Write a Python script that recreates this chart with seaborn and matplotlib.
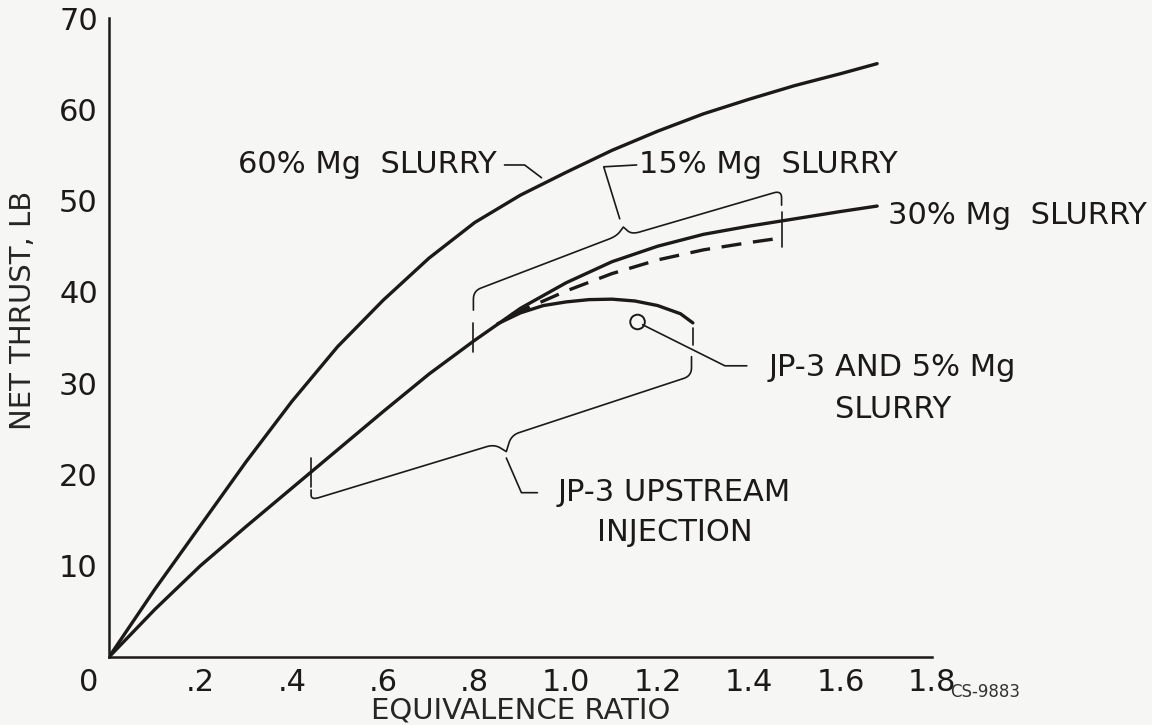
import numpy as np
import pandas as pd
import matplotlib
matplotlib.use("Agg")
import matplotlib.pyplot as plt
import seaborn as sns

# values (equivalence ratio vs net thrust, lb)
ratio_60 = [0, .1, .2, .3, .4, .5, .6, .7, .8, .9, 1.0, 1.1, 1.2, 1.3, 1.4, 1.5, 1.6, 1.68]
thrust_60 = [0, 7.4, 14.4, 21.4, 28.0, 34.0, 39.1, 43.7, 47.6, 50.6, 53.1, 55.5, 57.6, 59.5, 61.1, 62.6, 63.9, 65.0]

ratio_30 = [0, .1, .2, .3, .4, .5, .6, .7, .8, .9, 1.0, 1.1, 1.2, 1.3, 1.4, 1.5, 1.6, 1.68]
thrust_30 = [0, 5.2, 10.0, 14.3, 18.5, 22.7, 26.9, 31.0, 34.7, 38.2, 41.0, 43.3, 45.0, 46.3, 47.2, 48.0, 48.8, 49.4]

ratio_15 = [.88, .95, 1.0, 1.1, 1.2, 1.3, 1.4, 1.47]
thrust_15 = [37.5, 39.0, 40.1, 42.0, 43.5, 44.6, 45.4, 45.9]

ratio_jp3 = [.85, .9, .95, 1.0, 1.05, 1.1, 1.15, 1.2, 1.25, 1.277]
thrust_jp3 = [36.5, 37.7, 38.5, 38.9, 39.15, 39.2, 39.0, 38.5, 37.6, 36.6]

ratio_jp3_mg5 = [1.156]
thrust_jp3_mg5 = [36.7]

x_ticks = [.2, .4, .6, .8, 1.0, 1.2, 1.4, 1.6, 1.8]
x_ticklabels = [".2", ".4", ".6", ".8", "1.0", "1.2", "1.4", "1.6", "1.8"]
y_ticks = [10, 20, 30, 40, 50, 60, 70]

INK = "#1c1a18"
BG = "#f6f6f4"

sns.set_style("white")
plt.rcParams["font.family"] = ["DejaVu Sans"]
plt.rcParams["text.color"] = INK

SX = 50.0  # x data units -> y data units, roughly isotropic on the page


def rounded_path(pts, r=0.9, sharp=()):
    # polyline with softened corners, used for the braces
    pts = np.array(pts, float) * [SX, 1]
    out = [pts[0]]
    for i in range(1, len(pts) - 1):
        p, a, b = pts[i], pts[i - 1], pts[i + 1]
        if i in sharp:
            out.append(p)
            continue
        la, lb = np.linalg.norm(a - p), np.linalg.norm(b - p)
        s = p + (a - p) / la * min(r, la / 2)
        e = p + (b - p) / lb * min(r, lb / 2)
        t = np.linspace(0, 1, 12)[:, None]
        out.extend((1 - t) ** 2 * s + 2 * (1 - t) * t * p + t ** 2 * e)
    out.append(pts[-1])
    out = np.array(out)
    return out[:, 0] / SX, out[:, 1]


fig = plt.figure(figsize=(11.52, 7.25), dpi=100, facecolor=BG)
ax = fig.add_axes([109 / 1152, 68 / 725, 823 / 1152, 639 / 725])
ax.set_facecolor(BG)

lw = 2.4
sns.lineplot(x=ratio_60, y=thrust_60, ax=ax, color=INK, lw=lw)
sns.lineplot(x=ratio_30, y=thrust_30, ax=ax, color=INK, lw=lw)
sns.lineplot(x=ratio_15, y=thrust_15, ax=ax, color=INK, lw=lw, linestyle=(0, (6, 3.5)))
sns.lineplot(x=ratio_jp3, y=thrust_jp3, ax=ax, color=INK, lw=lw)
sns.scatterplot(x=ratio_jp3_mg5, y=thrust_jp3_mg5, ax=ax, s=110, marker="o",
                facecolor="none", edgecolor=INK, linewidth=1.4, zorder=5)

thin = dict(color=INK, lw=1.2, solid_capstyle="round")

# brace over the 15% Mg range
bx, by = rounded_path([(0.797, 38.0), (0.797, 40.1), (1.110, 46.1), (1.125, 47.1),
                       (1.143, 46.3), (1.471, 51.1), (1.471, 49.5)], sharp=(3,))
ax.plot(bx, by, **thin)
ax.plot([0.797, 0.797], [33.4, 36.6], **thin)
ax.plot([1.473, 1.473], [44.9, 48.7], **thin)
ax.plot([1.117, 1.082, 1.154], [48.0, 53.7, 53.9], **thin)

# brace under the JP-3 range
bx, by = rounded_path([(0.442, 18.3), (0.442, 17.2), (0.843, 23.3), (0.869, 22.5),
                       (0.880, 24.3), (1.274, 30.8), (1.274, 32.9)], sharp=(3,))
ax.plot(bx, by, **thin)
ax.plot([0.442, 0.442], [18.6, 21.8], **thin)
ax.plot([1.277, 1.277], [34.2, 36.0], **thin)
ax.plot([0.869, 0.902, 0.937], [21.8, 18.0, 18.0], **thin)

# leaders
ax.plot([1.167, 1.347, 1.395], [36.4, 31.9, 31.9], **thin)
ax.plot([0.865, 0.909, 0.946], [53.9, 53.9, 52.5], **thin)

fs = 22
ax.text(0.848, 53.9, "60% Mg  SLURRY", fontsize=fs, ha="right", va="center")
ax.text(1.160, 53.9, "15% Mg  SLURRY", fontsize=fs, ha="left", va="center")
ax.text(1.704, 48.4, "30% Mg  SLURRY", fontsize=fs, ha="left", va="center")
ax.text(1.714, 31.7, "JP-3 AND 5% Mg", fontsize=fs, ha="center", va="center")
ax.text(1.714, 27.1, "SLURRY", fontsize=fs, ha="center", va="center")
ax.text(1.237, 18.0, "JP-3 UPSTREAM", fontsize=fs, ha="center", va="center")
ax.text(1.237, 13.6, "INJECTION", fontsize=fs, ha="center", va="center")
ax.text(-0.045, -2.8, "0", fontsize=fs, ha="center", va="center")

ax.set_xlim(0, 1.8)
ax.set_ylim(0, 70)
ax.set_xticks(x_ticks)
ax.set_xticklabels(x_ticklabels)
ax.set_yticks(y_ticks)
ax.tick_params(direction="in", length=14, width=1.2, pad=8, labelsize=fs, colors=INK)
sns.despine(ax=ax)
for side in ("left", "bottom"):
    ax.spines[side].set_linewidth(1.8)
    ax.spines[side].set_color(INK)

ax.set_xlabel("EQUIVALENCE RATIO", fontsize=21)
ax.set_ylabel("NET THRUST, LB", fontsize=21)
ax.xaxis.set_label_coords(0.5, -0.062)
ax.yaxis.set_label_coords(-0.104, 0.543)
ax.yaxis.label.set_verticalalignment("center")

fig.text(950 / 1152, 1 - 692 / 725, "CS-9883", fontsize=12, ha="left", va="center",
         color="#333333")

fig.savefig("out.png", dpi=100, facecolor=BG)
